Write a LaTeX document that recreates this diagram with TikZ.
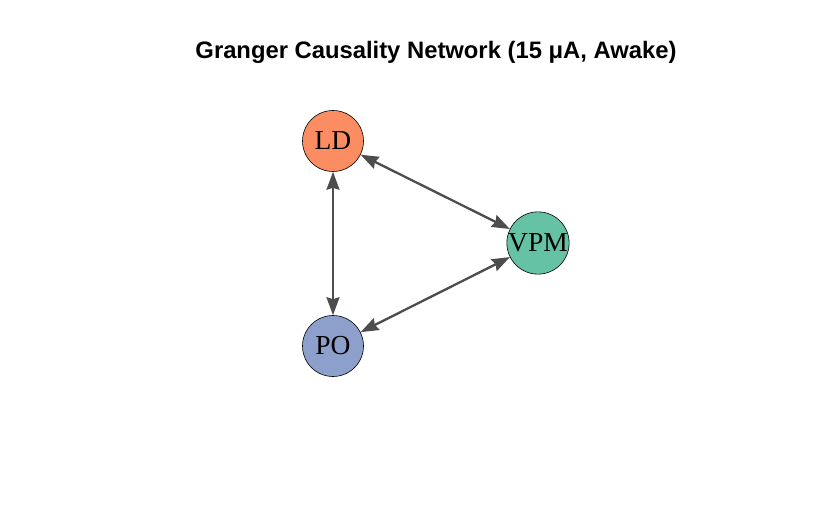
\documentclass[tikz,border=0pt]{standalone}
\usepackage{fontspec}
\setmainfont{Liberation Serif}
\newfontfamily\titlefont{Liberation Sans}
\usetikzlibrary{arrows.meta}
\definecolor{ldColor}{HTML}{FC8D62}
\definecolor{vpmColor}{HTML}{66C2A5}
\definecolor{poColor}{HTML}{8DA0CB}
\definecolor{edgeGray}{HTML}{4D4D4D}

\begin{document}
\begin{tikzpicture}
[x=1pt,y=-1pt,
  nodeDecorate/.style={shape=circle,minimum size=61pt,inner sep=0pt,draw=black,line width=0.6pt,font=\fontsize{27.5}{27.5}\selectfont},%
  lineDecorate/.style={{Stealth[length=18pt,width=13pt,inset=2pt]}-{Stealth[length=18pt,width=13pt,inset=2pt]},line width=2.3pt,draw=edgeGray,fill=edgeGray}]
\useasboundingbox (0,0) rectangle (826,510);
%% title
\node (title) at (436,52) {\titlefont\bfseries\fontsize{23.8}{23.8}\selectfont Granger Causality Network (15 μA, Awake)};
%% nodes or vertices
\foreach \nodename/\x/\y/\fillcol in {
  LD/333/141/ldColor, VPM/538/243/vpmColor, PO/333/346/poColor}
{
  \node (\nodename) at (\x,\y) [nodeDecorate,fill=\fillcol] {\nodename};
}
%% edges or lines
\foreach \startnode/\endnode in {LD/VPM, LD/PO, VPM/PO}
{
  \draw[lineDecorate] (\startnode) -- (\endnode);
}
\end{tikzpicture}
\end{document}
